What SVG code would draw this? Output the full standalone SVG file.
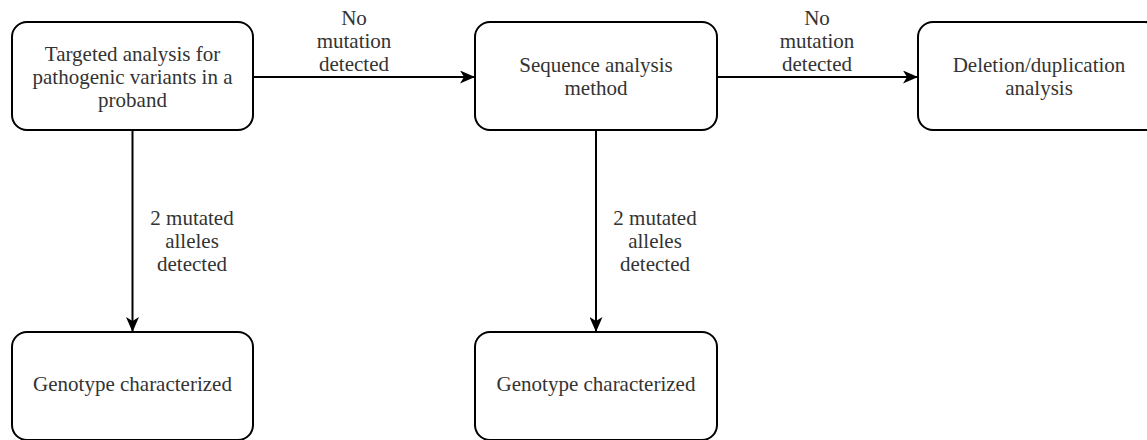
<svg xmlns="http://www.w3.org/2000/svg" width="1147" height="440" viewBox="0 0 1147 440">
<defs>
<style>
.box{fill:#fff;stroke:#000;stroke-width:2}
.t{font-family:'Liberation Serif','DejaVu Serif',serif;font-size:21px;fill:#333;text-anchor:middle}
.c{fill:none;stroke:#000;stroke-width:2}
</style>
<marker id="ah" markerWidth="15" markerHeight="13" refX="14" refY="6.5" orient="auto" markerUnits="userSpaceOnUse">
<path d="M0,0 L15,6.5 L0,13 L4,6.5 Z" fill="#000"/>
</marker>
</defs>
<rect width="1147" height="440" fill="#fff"/>
<g id="connectors">
<line class="c" x1="253" y1="77" x2="474" y2="77" marker-end="url(#ah)"/>
<line class="c" x1="717" y1="77" x2="917" y2="77" marker-end="url(#ah)"/>
<line class="c" x1="132.5" y1="130" x2="132.5" y2="331" marker-end="url(#ah)"/>
<line class="c" x1="596" y1="130" x2="596" y2="331" marker-end="url(#ah)"/>
<text class="t" font-family="Liberation Serif, DejaVu Serif, serif"><tspan x="354" y="25">No</tspan><tspan x="354" y="48">mutation</tspan><tspan x="354" y="71">detected</tspan></text>
<text class="t" font-family="Liberation Serif, DejaVu Serif, serif"><tspan x="817" y="25">No</tspan><tspan x="817" y="48">mutation</tspan><tspan x="817" y="71">detected</tspan></text>
<text class="t" font-family="Liberation Serif, DejaVu Serif, serif"><tspan x="192" y="225">2 mutated</tspan><tspan x="192" y="248">alleles</tspan><tspan x="192" y="271">detected</tspan></text>
<text class="t" font-family="Liberation Serif, DejaVu Serif, serif"><tspan x="655" y="225">2 mutated</tspan><tspan x="655" y="248">alleles</tspan><tspan x="655" y="271">detected</tspan></text>
</g>
<g id="n1">
<rect class="box" x="12" y="22" width="241" height="108" rx="15"/>
<text class="t" font-family="Liberation Serif, DejaVu Serif, serif"><tspan x="132.5" y="61">Targeted analysis for</tspan><tspan x="132.5" y="84">pathogenic variants in a</tspan><tspan x="132.5" y="107">proband</tspan></text>
</g>
<g id="n2">
<rect class="box" x="475" y="22" width="242" height="108" rx="15"/>
<text class="t" font-family="Liberation Serif, DejaVu Serif, serif"><tspan x="596" y="72">Sequence analysis</tspan><tspan x="596" y="95">method</tspan></text>
</g>
<g id="n3">
<rect class="box" x="918" y="22" width="242" height="108" rx="15"/>
<text class="t" font-family="Liberation Serif, DejaVu Serif, serif"><tspan x="1039" y="72">Deletion/duplication</tspan><tspan x="1039" y="95">analysis</tspan></text>
</g>
<g id="n4">
<rect class="box" x="12" y="332" width="241" height="108" rx="15"/>
<text class="t" font-family="Liberation Serif, DejaVu Serif, serif" x="132.5" y="391">Genotype characterized</text>
</g>
<g id="n5">
<rect class="box" x="475" y="332" width="242" height="108" rx="15"/>
<text class="t" font-family="Liberation Serif, DejaVu Serif, serif" x="596" y="391">Genotype characterized</text>
</g>
</svg>
